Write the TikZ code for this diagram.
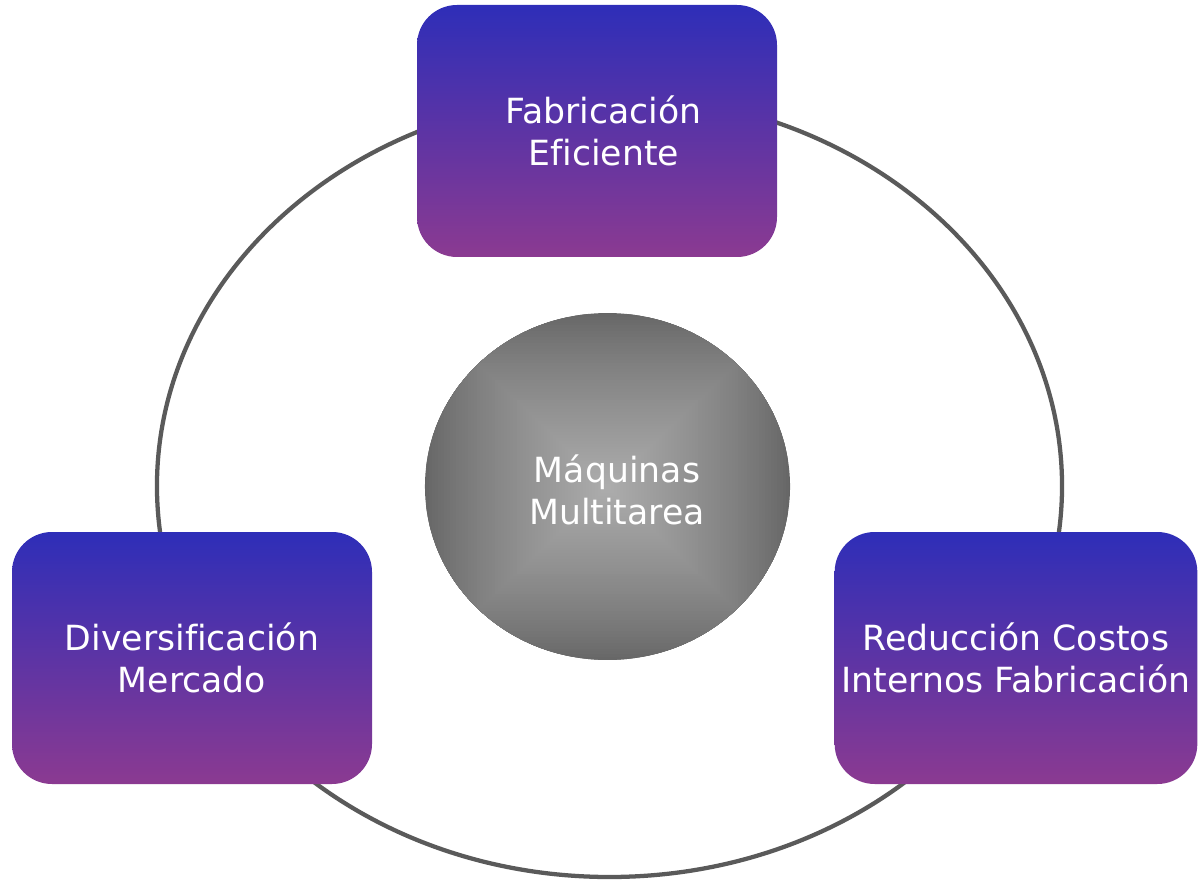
\documentclass[tikz,border=0pt]{standalone}
\usepackage{fontspec}
\setmainfont{DejaVu Sans}[Ligatures=NoCommon]
\usetikzlibrary{shapes.geometric}
\definecolor{boxtop}{RGB}{46,46,184}
\definecolor{boxbot}{RGB}{139,58,145}
\definecolor{ringcol}{RGB}{90,90,90}
\definecolor{cout}{RGB}{100,100,100}
\definecolor{cin}{RGB}{172,172,172}
\tikzset{
  stagebox/.style={rounded corners=30pt, top color=boxtop, bottom color=boxbot,
    draw=none, minimum width=270pt, minimum height=189pt, align=center,
    text=white, font=\fontsize{26}{32}\selectfont, inner sep=0pt},
  ring/.style={draw=ringcol, line width=3.2pt},
  centertext/.style={text=white, align=center, font=\fontsize{26}{31}\selectfont}
}
\begin{document}
\begin{tikzpicture}[x=0.75pt,y=-0.75pt]
\useasboundingbox (0,0) rectangle (1199,880);
% outer ring
\draw[ring] (609.5,486) ellipse [x radius=339.4pt, y radius=293.25pt];
% center disc with rectangular gradient
\begin{scope}
  \clip (607.5,486.5) ellipse [x radius=136.9pt, y radius=130.1pt];
  \foreach \i in {0,...,60}{
    \pgfmathsetmacro\p{100*(\i/60)^0.8}
    \pgfmathsetmacro\w{185*(1-\i/61)}
    \pgfmathsetmacro\h{176*(1-\i/61)}
    \fill[cin!\p!cout] (607.5-\w,487-\h) rectangle (607.5+\w,487+\h);
  }
\end{scope}
\node[centertext] (core) at (617,490) {Máquinas\\Multitarea};
% boxes
\node[stagebox] (top) at (597,131) {\hspace*{10pt}Fabricación\\\hspace*{10pt}Eficiente};
\node[stagebox] (left) at (192,658) {Diversificación\\Mercado};
\node[stagebox, minimum width=272pt] (right) at (1016,658) {Reducción Costos\\Internos Fabricación};
\end{tikzpicture}
\end{document}
